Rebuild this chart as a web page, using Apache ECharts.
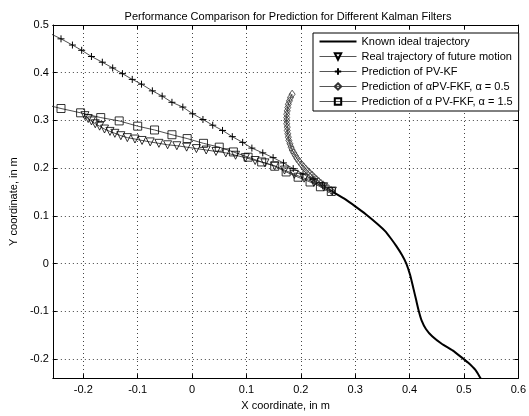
<!DOCTYPE html>
<html>
<head>
<meta charset="utf-8">
<script src="https://cdn.jsdelivr.net/npm/echarts@6/dist/echarts.min.js"></script>
<style>
  html, body { margin: 0; padding: 0; background: #fff; }
  #chart { width: 529px; height: 416px; }
</style>
</head>
<body>
<div id="chart"></div>
<script>
  // values, [x, y] in metres
  var idealPath = [
    [0.258, 0.151], [0.280, 0.136], [0.300, 0.120], [0.320, 0.103], [0.342, 0.082],
    [0.355, 0.068], [0.366, 0.052], [0.376, 0.036], [0.386, 0.018], [0.394, 0.000],
    [0.401, -0.024], [0.407, -0.052], [0.412, -0.076], [0.417, -0.100], [0.422, -0.119],
    [0.430, -0.137], [0.442, -0.153], [0.459, -0.168], [0.479, -0.182], [0.495, -0.196],
    [0.508, -0.208], [0.521, -0.223], [0.531, -0.241], [0.534, -0.246]
  ];
  var realPath = [
    [-0.197, 0.310], [-0.191, 0.304], [-0.185, 0.299], [-0.178, 0.293], [-0.170, 0.288],
    [-0.161, 0.282], [-0.151, 0.277], [-0.142, 0.273], [-0.131, 0.268], [-0.119, 0.264],
    [-0.105, 0.261], [-0.092, 0.258], [-0.077, 0.255], [-0.061, 0.252], [-0.045, 0.249],
    [-0.028, 0.247], [-0.010, 0.244], [0.008, 0.241], [0.026, 0.238], [0.044, 0.235],
    [0.062, 0.232], [0.080, 0.227], [0.098, 0.222], [0.116, 0.216], [0.134, 0.211],
    [0.152, 0.205], [0.170, 0.196], [0.188, 0.187], [0.206, 0.179], [0.224, 0.170],
    [0.242, 0.161], [0.258, 0.152]
  ];
  var pvkf = [
    [-0.259, 0.481], [-0.241, 0.471], [-0.220, 0.458], [-0.203, 0.447], [-0.185, 0.434],
    [-0.165, 0.422], [-0.146, 0.410], [-0.128, 0.398], [-0.110, 0.386], [-0.093, 0.376],
    [-0.073, 0.362], [-0.055, 0.351], [-0.037, 0.338], [-0.017, 0.328], [0.001, 0.314],
    [0.020, 0.302], [0.038, 0.290], [0.056, 0.279], [0.074, 0.266], [0.093, 0.254],
    [0.110, 0.242], [0.130, 0.232], [0.149, 0.222], [0.168, 0.211], [0.186, 0.199],
    [0.204, 0.188], [0.222, 0.176], [0.240, 0.164], [0.258, 0.152]
  ];
  var fkfHalf = [
    [0.184, 0.355], [0.181, 0.348], [0.179, 0.341], [0.177, 0.334], [0.176, 0.327],
    [0.175, 0.320], [0.174, 0.313], [0.174, 0.306], [0.174, 0.300], [0.174, 0.293],
    [0.175, 0.286], [0.175, 0.279], [0.176, 0.272], [0.177, 0.265], [0.178, 0.258],
    [0.180, 0.251], [0.182, 0.244], [0.184, 0.238], [0.187, 0.232], [0.190, 0.226],
    [0.193, 0.220], [0.197, 0.214], [0.201, 0.208], [0.205, 0.203], [0.209, 0.198],
    [0.213, 0.193], [0.217, 0.189], [0.221, 0.185], [0.225, 0.180], [0.229, 0.176],
    [0.233, 0.172], [0.237, 0.168], [0.241, 0.165], [0.246, 0.161], [0.251, 0.157],
    [0.256, 0.153]
  ];
  var fkfOneHalf = [
    [-0.262, 0.331], [-0.241, 0.325], [-0.205, 0.316], [-0.168, 0.306], [-0.134, 0.299],
    [-0.100, 0.288], [-0.069, 0.280], [-0.037, 0.270], [-0.009, 0.262], [0.021, 0.252],
    [0.050, 0.244], [0.076, 0.234], [0.103, 0.223], [0.128, 0.213], [0.152, 0.204],
    [0.173, 0.192], [0.195, 0.181], [0.217, 0.171], [0.236, 0.161], [0.256, 0.151]
  ];
  var seriesNames = [
    'Known ideal trajectory',
    'Real trajectory of future motion',
    'Prediction of PV-KF',
    'Prediction of \u03b1PV-FKF, \u03b1 = 0.5',
    'Prediction of \u03b1 PV-FKF, \u03b1 = 1.5'
  ];

  var font = 'Liberation Sans, Arial, sans-serif';
  var lineCol = '#222';
  var plusPath = 'path://M0,5L10,5M5,0L5,10';

  var chart = echarts.init(document.getElementById('chart'), null, { renderer: 'canvas' });

  // plain axis used for the box frame (top / right) with inward ticks
  function frameAxis(pos, min, max, split) {
    return {
      type: 'value', position: pos, min: min, max: max, splitNumber: split,
      axisLine: { show: true, onZero: false, lineStyle: { color: '#000', width: 1 } },
      axisTick: { show: true, inside: true, length: 4, lineStyle: { color: '#000' } },
      axisLabel: { show: false },
      splitLine: { show: false }
    };
  }

  var gridLine = { show: true, lineStyle: { color: '#444', type: [1, 3], width: 1 } };
  var labelStyle = { show: true, showMinLabel: false, color: '#000', fontFamily: font, fontSize: 11 };
  var nameStyle = { color: '#000', fontFamily: font, fontSize: 11 };

  var xMain = frameAxis('bottom', -0.256, 0.6, 8);
  xMain.axisLabel = Object.assign({ margin: 6 }, labelStyle);
  xMain.splitLine = gridLine;
  xMain.name = 'X coordinate, in m';
  xMain.nameLocation = 'middle';
  xMain.nameGap = 19;
  xMain.nameTextStyle = nameStyle;

  var yMain = frameAxis('left', -0.24, 0.5, 7);
  yMain.axisLabel = Object.assign({ margin: 4 }, labelStyle);
  yMain.splitLine = gridLine;
  yMain.name = 'Y coordinate, in m';
  yMain.nameLocation = 'middle';
  yMain.nameGap = 29;
  yMain.nameTextStyle = nameStyle;

  var option = {
    backgroundColor: '#fff',
    animation: false,
    title: {
      text: 'Performance Comparison for Prediction for Different Kalman Filters',
      left: 283, top: 6, textAlign: 'center',
      textStyle: { color: '#000', fontFamily: font, fontSize: 11, fontWeight: 'normal' }
    },
    grid: { left: 47, right: 9, top: 25, bottom: 32 },
    xAxis: [xMain, frameAxis('top', -0.256, 0.6, 8)],
    yAxis: [yMain, frameAxis('right', -0.24, 0.5, 7)],
    legend: {
      orient: 'vertical', left: 313, top: 33,
      backgroundColor: '#fff', borderColor: '#000', borderWidth: 1, borderRadius: 0,
      padding: [3, 6, 4, 6], itemGap: 4, itemWidth: 37, itemHeight: 8,
      lineStyle: { width: 1, color: '#555' },
      textStyle: { color: '#000', fontFamily: font, fontSize: 11 },
      data: [
        { name: seriesNames[0], icon: 'path://M0,0L38,0L38,2L0,2Z' },
        seriesNames[1], seriesNames[2], seriesNames[3], seriesNames[4]
      ]
    },
    series: [
      {
        name: seriesNames[0], type: 'line', data: idealPath, showSymbol: false, symbol: 'none',
        clip: true, smooth: 0.15,
        lineStyle: { color: '#000', width: 2 }, itemStyle: { color: '#000' }
      },
      {
        name: seriesNames[1], type: 'line', data: realPath, clip: true,
        symbol: 'triangle', symbolRotate: 180, symbolSize: 8, showAllSymbol: true,
        lineStyle: { color: lineCol, width: 0.8 },
        itemStyle: { color: 'transparent', borderColor: '#000', borderWidth: 0.8 }
      },
      {
        name: seriesNames[2], type: 'line', data: pvkf, clip: true,
        symbol: plusPath, symbolSize: 7, showAllSymbol: true,
        lineStyle: { color: lineCol, width: 0.8 },
        itemStyle: { color: 'transparent', borderColor: '#000', borderWidth: 1 }
      },
      {
        name: seriesNames[3], type: 'line', data: fkfHalf, clip: true,
        symbol: 'diamond', symbolSize: [6, 8], showAllSymbol: true,
        lineStyle: { color: lineCol, width: 0.8 },
        itemStyle: { color: 'transparent', borderColor: '#333', borderWidth: 0.8 }
      },
      {
        name: seriesNames[4], type: 'line', data: fkfOneHalf, clip: true,
        symbol: 'rect', symbolSize: 8, showAllSymbol: true,
        lineStyle: { color: lineCol, width: 0.8 },
        itemStyle: { color: 'transparent', borderColor: '#000', borderWidth: 0.8 }
      }
    ]
  };

  chart.setOption(option);
</script>
</body>
</html>
